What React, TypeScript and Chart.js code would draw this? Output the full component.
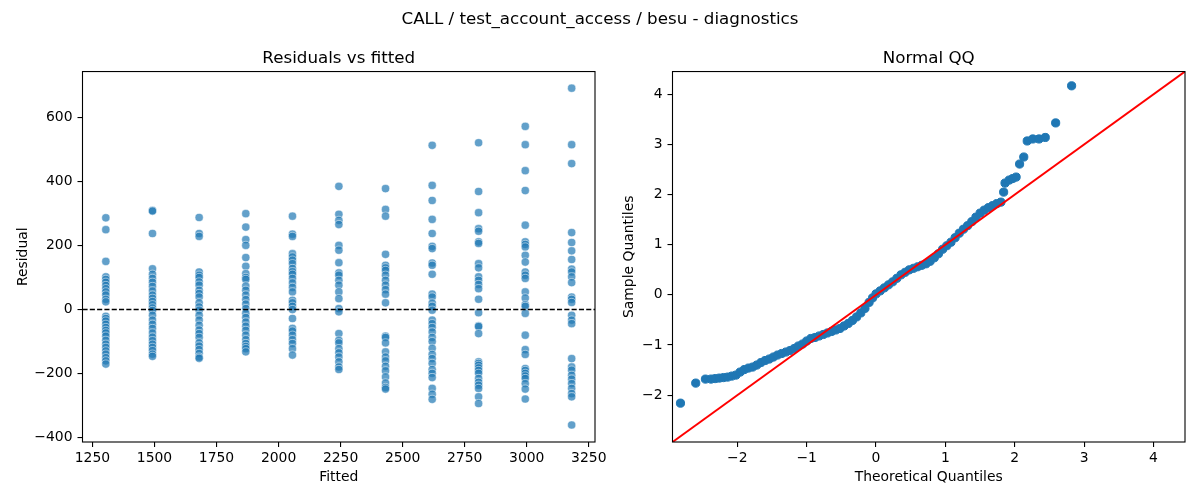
import React, { useEffect, useRef } from "react";
import { Chart, registerables } from "chart.js";

Chart.register(...registerables);

const FONT = '"DejaVu Sans", Verdana, sans-serif';

// ---------- data ----------
const suptitle = "CALL / test_account_access / besu - diagnostics";
const leftTitle = "Residuals vs fitted";
const rightTitle = "Normal QQ";

const fittedValues = [1304, 1492, 1680, 1868, 2056, 2243, 2431, 2619, 2806, 2994, 3181];

const residualsByFitted: number[][] = [
  [286, 249, 150, 102, 94, 85, 75, 65, 55, 45, 32, 24, -21, -28, -36, -46, -56, -65, -73, -83, -96, -108, -118, -129, -139, -150, -160, -170],
  [309, 307, 237, 127, 110, 97, 85, 72, 58, 45, 35, 25, 15, 5, -3, -18, -33, -46, -59, -73, -86, -97, -108, -118, -128, -139, -146],
  [287, 237, 228, 117, 107, 100, 86, 76, 60, 50, 39, 21, 8, -2, -18, -33, -49, -64, -75, -87, -104, -114, -125, -137, -148, -152],
  [299, 257, 218, 200, 162, 135, 112, 100, 94, 73, 60, 45, 31, 17, 3, -12, -25, -39, -52, -65, -80, -94, -106, -115, -122, -132],
  [291, 235, 228, 174, 164, 154, 143, 128, 118, 110, 97, 83, 69, 55, 29, 21, 10, 0, -28, -59, -67, -80, -94, -106, -122, -142],
  [384, 297, 278, 265, 200, 185, 146, 114, 107, 91, 76, 55, 34, 3, -7, -75, -96, -104, -122, -135, -148, -163, -179, -187],
  [377, 312, 291, 172, 138, 130, 122, 107, 91, 76, 62, 48, 21, -83, -87, -104, -132, -148, -160, -177, -191, -210, -229, -243, -248],
  [512, 387, 340, 281, 237, 197, 190, 145, 138, 110, 48, 39, 20, 10, -2, -33, -44, -56, -70, -87, -100, -121, -140, -153, -168, -187, -199, -212, -246, -264, -280],
  [520, 368, 302, 252, 244, 211, 206, 143, 130, 102, 91, 78, 65, 32, -10, -51, -53, -75, -163, -168, -174, -182, -190, -199, -215, -227, -236, -246, -272, -293],
  [571, 514, 433, 371, 263, 211, 203, 195, 169, 148, 117, 107, 97, 55, 36, 15, 10, -12, -80, -125, -140, -184, -190, -199, -207, -215, -231, -248, -279],
  [690, 514, 455, 240, 209, 183, 156, 126, 117, 102, 84, 39, 32, 22, -18, -33, -44, -153, -179, -189, -205, -217, -231, -246, -262, -272, -360],
];

const residXTicks = [1250, 1500, 1750, 2000, 2250, 2500, 2750, 3000, 3250];
const residYTicks = [-400, -200, 0, 200, 400, 600];
const residXRange = [1210, 3275];
const residYRange = [-413, 742];

const qqTheoretical = [
  -2.82, -2.6, -2.46, -2.38, -2.32, -2.26, -2.2, -2.14, -2.08, -2.02, -1.96, -1.9, -1.84, -1.78, -1.72,
  -1.66, -1.6, -1.54, -1.48, -1.42, -1.36, -1.3, -1.24, -1.18, -1.12, -1.06, -1.0, -0.94, -0.88, -0.82,
  -0.76, -0.7, -0.64, -0.58, -0.52, -0.46, -0.4, -0.34, -0.28, -0.22, -0.16, -0.1, -0.05, 0.0, 0.06,
  0.12, 0.18, 0.24, 0.3, 0.36, 0.42, 0.48, 0.54, 0.6, 0.66, 0.72, 0.78, 0.84, 0.9, 0.96,
  1.02, 1.08, 1.14, 1.2, 1.26, 1.32, 1.38, 1.44, 1.5, 1.56, 1.62, 1.68, 1.74, 1.8, 1.84,
  1.86, 1.92, 1.97, 2.02, 2.07, 2.13, 2.18, 2.26, 2.35, 2.44, 2.59, 2.82,
];
const qqSample = [
  -2.16, -1.76, -1.68, -1.68, -1.67, -1.66, -1.65, -1.64, -1.62, -1.6, -1.54, -1.49, -1.46, -1.44, -1.4,
  -1.35, -1.31, -1.28, -1.24, -1.2, -1.17, -1.14, -1.11, -1.07, -1.02, -0.98, -0.92, -0.87, -0.85, -0.82,
  -0.79, -0.76, -0.73, -0.7, -0.67, -0.62, -0.57, -0.51, -0.44, -0.36, -0.27, -0.15, -0.06, 0.02, 0.08,
  0.14, 0.2, 0.26, 0.33, 0.4, 0.45, 0.5, 0.53, 0.56, 0.59, 0.62, 0.67, 0.74, 0.82, 0.91,
  0.98, 1.05, 1.14, 1.23, 1.31, 1.38, 1.46, 1.55, 1.63, 1.69, 1.74, 1.78, 1.82, 1.85, 2.05,
  2.23, 2.29, 2.32, 2.35, 2.61, 2.75, 3.07, 3.11, 3.11, 3.14, 3.43, 4.17,
];
const qqTicks = [-2, -1, 0, 1, 2, 3, 4];
const qqRange = [-2.935, 4.455];
const qqLineEnds = [-2.935, 4.455];

// ---------- helpers ----------
const fmt = (v: number | string) => String(v).replace("-", "\u2212");

function makeAxis(
  kind: "x" | "y",
  range: number[],
  ticks: number[],
  title: string,
  size: number,
  titlePad: number
): any {
  return {
    type: "linear",
    position: kind === "x" ? "bottom" : "left",
    min: range[0],
    max: range[1],
    afterBuildTicks: (s: any) => {
      s.ticks = ticks.map((v) => ({ value: v }));
    },
    afterFit: (s: any) => {
      if (kind === "x") s.height = size;
      else s.width = size;
      s.paddingLeft = 0;
      s.paddingRight = 0;
      s.paddingTop = 0;
      s.paddingBottom = 0;
    },
    grid: {
      display: true,
      drawOnChartArea: false,
      drawTicks: true,
      tickLength: 5,
      tickWidth: 1.1,
      tickColor: "#000",
      color: "#000",
      lineWidth: 1.1,
    },
    border: { display: false },
    ticks: {
      color: "#000",
      font: { family: FONT, size: 13.9 },
      padding: kind === "x" ? 3 : 5,
      autoSkip: false,
      maxRotation: 0,
      minRotation: 0,
      callback: (v: any) => fmt(v),
    },
    title: {
      display: true,
      text: title,
      color: "#000",
      font: { family: FONT, size: 13.9, lineHeight: 1.2 },
      padding: kind === "x" ? { top: 0, bottom: titlePad } : { top: titlePad, bottom: 0 },
    },
  };
}

function makeFramePlugin(zeroLine: boolean) {
  return {
    id: "frame" + (zeroLine ? "Zero" : ""),
    afterDatasetsDraw(chart: any) {
      const { ctx, chartArea, scales } = chart;
      const { left, top, right, bottom } = chartArea;
      ctx.save();
      if (zeroLine) {
        const y = scales.y.getPixelForValue(0);
        ctx.beginPath();
        ctx.setLineDash([5.1, 2.2]);
        ctx.lineWidth = 1.39;
        ctx.strokeStyle = "#000";
        ctx.moveTo(left, y);
        ctx.lineTo(right, y);
        ctx.stroke();
        ctx.setLineDash([]);
      }
      ctx.lineWidth = 1.1;
      ctx.strokeStyle = "#000";
      ctx.strokeRect(left, top, right - left, bottom - top);
      ctx.restore();
    },
  };
}

function titleOpts(text: string) {
  return {
    display: true,
    text,
    color: "#000",
    fullSize: false,
    font: { family: FONT, size: 16.7, weight: "normal" as const, lineHeight: 1.2 },
    padding: { top: 48.2, bottom: 3.3 },
  };
}

export default function App() {
  const leftRef = useRef<HTMLCanvasElement>(null);
  const rightRef = useRef<HTMLCanvasElement>(null);

  useEffect(() => {
    const residPoints = residualsByFitted.flatMap((col, i) =>
      col.map((r) => ({ x: fittedValues[i], y: r }))
    );
    const left = new Chart(leftRef.current as HTMLCanvasElement, {
      type: "scatter",
      data: {
        datasets: [
          {
            data: residPoints,
            pointRadius: 4.1,
            pointBorderWidth: 0.7,
            backgroundColor: "rgba(31,119,180,0.7)",
            borderColor: "rgba(255,255,255,0.7)",
          },
        ],
      },
      options: {
        responsive: false,
        animation: false,
        events: [],
        layout: { padding: { left: 0, right: 25, top: 0, bottom: 0 } },
        plugins: {
          legend: { display: false },
          tooltip: { enabled: false },
          title: titleOpts(leftTitle),
        },
        scales: {
          x: makeAxis("x", residXRange, residXTicks, "Fitted", 58, 14),
          y: makeAxis("y", residYRange, residYTicks, "Residual", 82.5, 14.7),
        },
      } as any,
      plugins: [makeFramePlugin(true)],
    });

    const qqPoints = qqTheoretical.map((t, i) => ({ x: t, y: qqSample[i] }));
    const right = new Chart(rightRef.current as HTMLCanvasElement, {
      type: "scatter",
      data: {
        datasets: [
          {
            type: "line",
            data: [
              { x: qqLineEnds[0], y: qqLineEnds[0] },
              { x: qqLineEnds[1], y: qqLineEnds[1] },
            ],
            borderColor: "#ff0000",
            borderWidth: 2,
            pointRadius: 0,
            fill: false,
            tension: 0,
            order: 0,
          } as any,
          {
            data: qqPoints,
            pointRadius: 4.1,
            pointBorderWidth: 1,
            backgroundColor: "#1f77b4",
            borderColor: "#1f77b4",
            order: 1,
          },
        ],
      },
      options: {
        responsive: false,
        animation: false,
        events: [],
        layout: { padding: { left: 0, right: 15, top: 0, bottom: 0 } },
        plugins: {
          legend: { display: false },
          tooltip: { enabled: false },
          title: titleOpts(rightTitle),
        },
        scales: {
          x: makeAxis("x", qqRange, qqTicks, "Theoretical Quantiles", 58, 14),
          y: makeAxis("y", qqRange, qqTicks, "Sample Quantiles", 72.5, 21.3),
        },
      } as any,
      plugins: [makeFramePlugin(false)],
    });

    return () => {
      left.destroy();
      right.destroy();
    };
  }, []);

  return (
    <div
      style={{
        position: "fixed",
        left: 0,
        top: 0,
        width: 1200,
        height: 500,
        background: "#fff",
        fontFamily: FONT,
      }}
    >
      <canvas
        ref={leftRef}
        width={620}
        height={500}
        style={{ position: "absolute", left: 0, top: 0, width: 620, height: 500 }}
      />
      <canvas
        ref={rightRef}
        width={600}
        height={500}
        style={{ position: "absolute", left: 600, top: 0, width: 600, height: 500 }}
      />
      <div
        style={{
          position: "absolute",
          left: 0,
          top: 8,
          width: 1200,
          height: 20,
          lineHeight: "20px",
          fontSize: "16.7px",
          textAlign: "center",
          color: "#000",
          whiteSpace: "nowrap",
        }}
      >
        {suptitle}
      </div>
    </div>
  );
}
